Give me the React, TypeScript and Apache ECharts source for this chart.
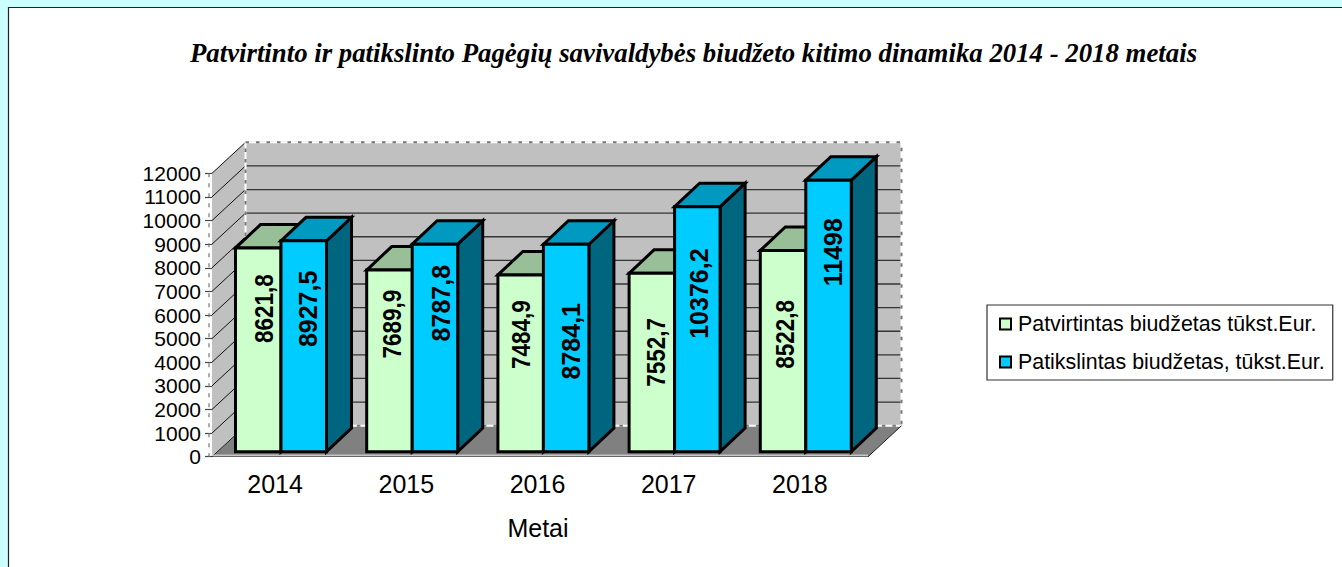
import React, { useEffect, useRef } from "react";
import * as echarts from "echarts";

const titleText = "Patvirtinto ir patikslinto Pagėgių savivaldybės biudžeto kitimo dinamika 2014 - 2018 metais";
const categories = ["2014", "2015", "2016", "2017", "2018"];
const approvedName = "Patvirtintas biudžetas tūkst.Eur.";
const revisedName = "Patikslintas biudžetas, tūkst.Eur.";
const approved = [8621.8, 7689.9, 7484.9, 7552.7, 8522.8];
const revised = [8927.5, 8787.8, 8784.1, 10376.2, 11498];
const yTicks = [0, 1000, 2000, 3000, 4000, 5000, 6000, 7000, 8000, 9000, 10000, 11000, 12000];
const axisName = "Metai";

// Layout of the pseudo-3D scene (pixels)
const WALL_DX = 33.5;
const WALL_DY = 31;
const BAR_W = 45.5;
const BAR_DX = 25;
const BAR_DY = 23.5;
const BAR_SHIFT_X = 3.4;
const BAR_SHIFT_Y = 5;
const approvedLabelDrop = [60.5, 54, 59.6, 79, 84];
const revisedLabelDrop = [68, 59, 97, 87, 72];
const approvedLabelDx = [5.5, 2.5, 0, 4, 2];
const revisedLabelDx = [4, 6, 4.7, 2, 4.5];

const FONT = '"Liberation Sans", Arial, sans-serif';

function wallItem(params: any, api: any) {
  const f = params.coordSys;
  const left = f.x;
  const right = f.x + f.width;
  const y0 = api.coord([0, 0])[1];
  const yTop = api.coord([0, 12000])[1];
  const children: any[] = [
    { type: "polygon", shape: { points: [[left, yTop], [left + WALL_DX, yTop - WALL_DY], [left + WALL_DX, y0 - WALL_DY], [left, y0]] }, style: { fill: "#C0C0C0" } },
    { type: "rect", shape: { x: left + WALL_DX, y: yTop - WALL_DY, width: right - left, height: y0 - yTop }, style: { fill: "#C0C0C0" } },
    { type: "polygon", shape: { points: [[left, y0], [left + WALL_DX, y0 - WALL_DY], [right + WALL_DX, y0 - WALL_DY], [right, y0]] }, style: { fill: "#808080" } },
  ];
  yTicks.slice(1).forEach((v) => {
    const y = api.coord([0, v])[1];
    children.push({ type: "line", shape: { x1: left, y1: y, x2: left + WALL_DX, y2: y - WALL_DY }, style: { stroke: "#111", lineWidth: 1 } });
    children.push({ type: "line", shape: { x1: left + WALL_DX, y1: y - WALL_DY, x2: right + WALL_DX, y2: y - WALL_DY }, style: { stroke: "#333", lineWidth: 1.3 } });
  });
  const frame = { x: left + WALL_DX, y: yTop - WALL_DY, width: right - left, height: y0 - yTop };
  children.push({ type: "rect", shape: frame, style: { fill: "none", stroke: "#fff", lineWidth: 2 } });
  children.push({ type: "rect", shape: frame, style: { fill: "none", stroke: "#777", lineWidth: 2, lineDash: [3.5, 7] } });
  children.push({ type: "line", shape: { x1: left - 3, y1: yTop, x2: left - 3, y2: y0 }, style: { stroke: "#777", lineWidth: 1.2, lineDash: [4, 6] } });
  children.push({ type: "line", shape: { x1: left, y1: y0, x2: left + WALL_DX, y2: y0 - WALL_DY }, style: { stroke: "#222", lineWidth: 1 } });
  children.push({ type: "line", shape: { x1: right, y1: y0, x2: right + WALL_DX, y2: y0 - WALL_DY }, style: { stroke: "#222", lineWidth: 1 } });
  children.push({ type: "line", shape: { x1: left, y1: y0 - 1.5, x2: right, y2: y0 - 1.5 }, style: { stroke: "#e8e8e8", lineWidth: 1 } });
  return { type: "group", children };
}

function makeBarRenderer(slot: number, front: string, top: string, side: string, drops: number[], dxs: number[], textScale: number) {
  return (_params: any, api: any) => {
    const idx = api.value(0);
    const v = api.value(1);
    const base = api.coord([idx, 0]);
    const head = api.coord([idx, v]);
    const x0 = base[0] + BAR_SHIFT_X + (slot - 1) * BAR_W;
    const x1 = x0 + BAR_W;
    const yb = base[1] - BAR_SHIFT_Y;
    const yt = head[1] - BAR_SHIFT_Y;
    const line = { stroke: "#000", lineWidth: 3, lineJoin: "miter" };
    return {
      type: "group",
      children: [
        { type: "polygon", shape: { points: [[x1, yb], [x1 + BAR_DX, yb - BAR_DY], [x1 + BAR_DX, yt - BAR_DY], [x1, yt]] }, style: { fill: side, ...line } },
        { type: "polygon", shape: { points: [[x0, yt], [x0 + BAR_DX, yt - BAR_DY], [x1 + BAR_DX, yt - BAR_DY], [x1, yt]] }, style: { fill: top, ...line } },
        { type: "rect", shape: { x: x0, y: yt, width: BAR_W, height: yb - yt }, style: { fill: front, ...line } },
        {
          type: "text",
          x: (x0 + x1) / 2 + dxs[idx],
          y: yt + drops[idx],
          rotation: Math.PI / 2,
          scaleX: textScale,
          style: {
            text: String(v).replace(".", ","),
            fontFamily: FONT,
            fontSize: 25,
            fontWeight: "bold",
            fill: "#000",
            textAlign: "center",
            textVerticalAlign: "middle",
            align: "center",
            verticalAlign: "middle",
          },
        },
      ],
    };
  };
}

export default function App() {
  const ref = useRef<HTMLDivElement>(null);
  useEffect(() => {
    document.body.style.margin = "0";
    const chart = echarts.init(ref.current!, null, { renderer: "svg" });
    chart.setOption({
      animation: false,
      backgroundColor: "#CCFFFF",
      graphic: [
        { type: "rect", z: 0, shape: { x: 8.5, y: 7.5, width: 1400, height: 600 }, style: { fill: "#fff", stroke: "#222", lineWidth: 1.2 } },
      ],
      title: {
        text: titleText,
        left: 688.5,
        top: 34,
        textAlign: "center",
        textStyle: { fontFamily: '"Liberation Serif", "Times New Roman", serif', fontStyle: "italic", fontWeight: "bold", fontSize: 26.8, color: "#000" },
      },
      legend: {
        left: 987,
        top: 305,
        orient: "vertical",
        padding: [8, 8, 7, 12],
        itemGap: 16,
        itemWidth: 11,
        itemHeight: 11,
        backgroundColor: "#fff",
        borderColor: "#333",
        borderWidth: 1.2,
        borderRadius: 0,
        textStyle: { fontFamily: FONT, fontSize: 21.4, color: "#000", padding: [0, 0, 0, 2], lineHeight: 22 },
        data: [
          { name: approvedName, icon: "rect", itemStyle: { color: "#CCFFCC", borderColor: "#000", borderWidth: 2 } },
          { name: revisedName, icon: "rect", itemStyle: { color: "#00CCFF", borderColor: "#000", borderWidth: 2 } },
        ],
      },
      grid: { left: 212, right: 474, top: 173.3, bottom: 110.3, containLabel: false },
      xAxis: {
        type: "category",
        data: categories,
        boundaryGap: true,
        name: axisName,
        nameLocation: "middle",
        nameGap: 59,
        nameTextStyle: { fontFamily: FONT, fontSize: 25, color: "#000", padding: [0, 4, 0, 0] },
        axisLine: { lineStyle: { color: "#222", width: 1.2 } },
        axisTick: { length: 6, lineStyle: { color: "#222", width: 1.2 } },
        axisLabel: { fontFamily: FONT, fontSize: 25, color: "#000", margin: 15, padding: [0, 5, 0, 0] },
      },
      yAxis: {
        type: "value",
        min: 0,
        max: 12000,
        interval: 1000,
        axisLine: { show: false },
        axisTick: { show: true, length: 7, lineStyle: { color: "#444", width: 1.2 } },
        splitLine: { show: false },
        axisLabel: { fontFamily: FONT, fontSize: 21, color: "#000", margin: 11, formatter: (v: number) => String(v) },
      },
      series: [
        { type: "custom", name: "walls", z: 1, silent: true, data: [[0, 0]], encode: { x: 0, y: 1 }, renderItem: wallItem },
        {
          type: "custom",
          name: approvedName,
          z: 3,
          data: approved.map((v, i) => [i, v]),
          encode: { x: 0, y: 1 },
          itemStyle: { color: "#CCFFCC" },
          renderItem: makeBarRenderer(0, "#CCFFCC", "#99BF99", "#669966", approvedLabelDrop, approvedLabelDx, 0.9),
        },
        {
          type: "custom",
          name: revisedName,
          z: 4,
          data: revised.map((v, i) => [i, v]),
          encode: { x: 0, y: 1 },
          itemStyle: { color: "#00CCFF" },
          renderItem: makeBarRenderer(1, "#00CCFF", "#0099BF", "#006680", revisedLabelDrop, revisedLabelDx, 1),
        },
      ],
    });
    return () => chart.dispose();
  }, []);
  return <div ref={ref} style={{ position: "absolute", left: 0, top: 0, width: 1342, height: 567 }} />;
}
